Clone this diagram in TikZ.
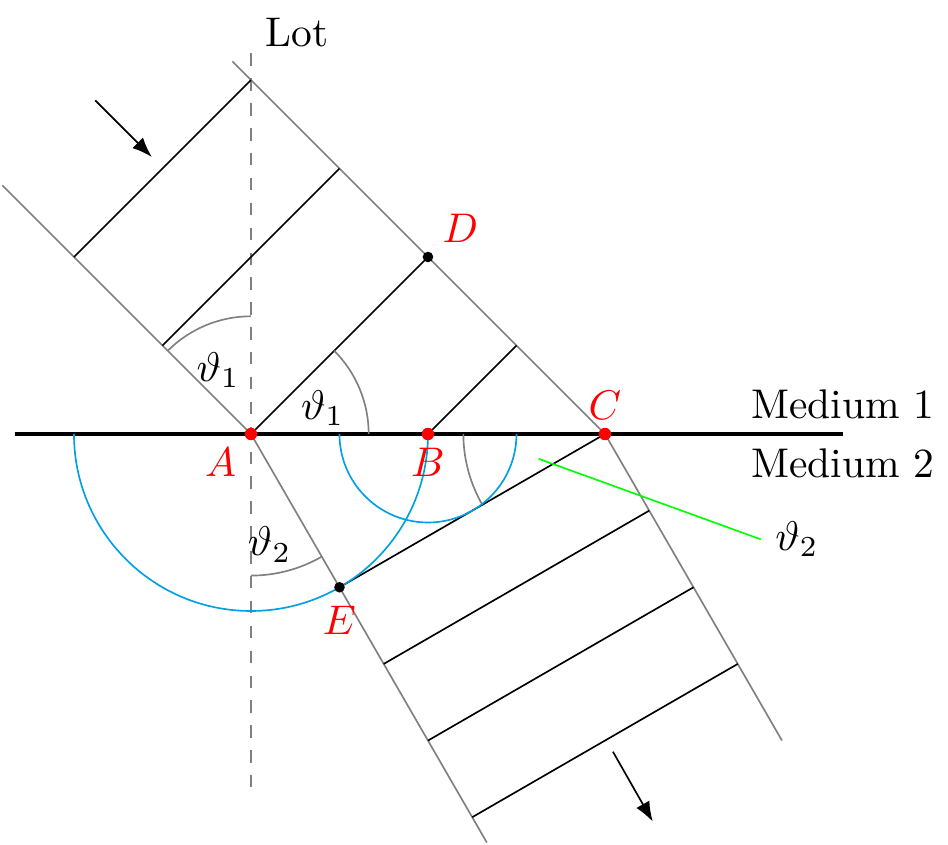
\documentclass[tikz,border=0pt]{standalone}
\usepackage{amsmath,amssymb}
\usepackage{xcolor}
\usepackage{tikz}
\usetikzlibrary{arrows.meta,calc}
\definecolor{huygensblau}{RGB}{0,160,227}
\begin{document}
\begin{tikzpicture}[>=Latex, scale=0.75,
    rand/.style={gray}, winkel/.style={gray}, elementar/.style={huygensblau},
    punkt/.style={red}, marke/.style={red}]
  \useasboundingbox (-2.836,-4.644) rectangle (7.876,4.904);
  \def\ra{1.33}
  \def\rb{1.6}
  \coordinate (A) at (0,0);
  \coordinate (B) at (2,0);
  \coordinate (C) at (4,0);
  \coordinate (D) at (2,2);
  \coordinate (E) at (-60:2);
  \coordinate (d) at (-60:1);
  \coordinate (L1) at (0,4.3);
  \coordinate (L2) at (0,-4);
  \coordinate (G1) at (-2.67,0);
  \coordinate (G2) at (6.69,0);
  \coordinate (P1) at (-2.81,2.81);
  \coordinate (P2) at (-0.21,4.21);
  \coordinate (P3) at ($(A)+5.33*(d)$);
  \coordinate (P4) at ($(C)+4*(d)$);
  \coordinate (B1) at (3,1);
  \draw[gray, dashed] (L1) -- (L2);
  \draw[thick] (G1) -- (G2);
  \node[above] (m1) at (G2) {Medium 1};
  \node[below] (m2) at (G2) {Medium 2};
  \node (lot) at (0.52,4.54) {Lot};
  \draw[rand] (P1) -- (A) -- (P3);
  \draw[rand] (P2) -- (C) -- (P4);
  \foreach \k in {0,1,2}
    \draw ($(A)+(-\k,\k)$) -- ($(D)+(-\k,\k)$);
  \draw (B) -- (B1);
  \foreach \k in {0,...,3}
    \draw ($(E)+\k*(d)$) -- ($(C)+\k*(d)$);
  \draw[winkel] ($(A)+(90:\ra)$) arc (90:135:\ra);
  \draw[winkel] ($(A)+(0:\ra)$) arc (0:45:\ra);
  \draw[winkel] ($(A)+(270:\rb)$) arc (270:300:\rb);
  \draw[winkel] ($(C)+(180:\rb)$) arc (180:210:\rb);
  \draw[elementar] ($(A)+(180:2)$) arc (180:360:2);
  \draw[elementar] ($(B)+(180:1)$) arc (180:360:1);
  \node (t1a) at (-0.37,0.72) {$\vartheta_1$};
  \node (t1b) at (0.81,0.29) {$\vartheta_1$};
  \node (t2a) at (0.21,-1.25) {$\vartheta_2$};
  \coordinate (g1) at (3.25,-0.28);
  \node[right] (t2b) at (5.76,-1.19) {$\vartheta_2$};
  \draw[green] (g1) -- (t2b.west);
  \coordinate (q1) at (-1.76,3.77);
  \coordinate (q2) at (-1.12,3.13);
  \draw[->] (q1) -- (q2);
  \coordinate (q3) at (4.09,-3.59);
  \coordinate (q4) at (4.54,-4.38);
  \draw[->] (q3) -- (q4);
  \foreach \p in {A,B,C}
    \fill[punkt] (\p) circle (2pt);
  \fill (D) circle (1.7pt);
  \fill (E) circle (1.7pt);
  \node[marke, below left] (nA) at (A) {$A$};
  \node[marke, below] (nB) at (B) {$B$};
  \node[marke, above] (nC) at (C) {$C$};
  \node[marke, above right] (nD) at (D) {$D$};
  \node[marke, below, yshift=-1pt] (nE) at (E) {$E$};
\end{tikzpicture}
\end{document}
